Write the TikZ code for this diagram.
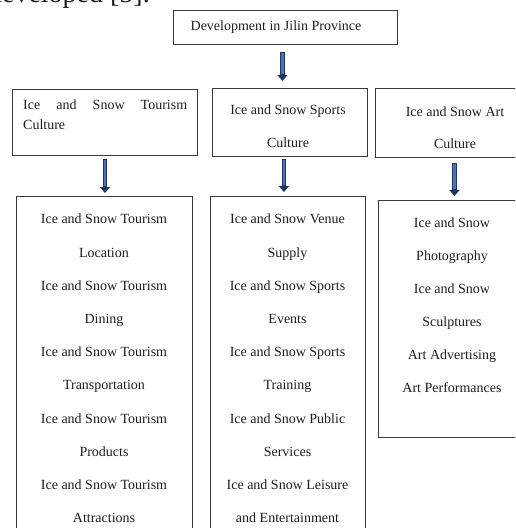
\documentclass[tikz,border=0pt]{standalone}
\usepackage{fontspec}
\setmainfont{Liberation Serif}
\usetikzlibrary{arrows.meta}
\definecolor{inkc}{HTML}{1E1E1E}
\definecolor{boxc}{HTML}{3A3A3A}
\definecolor{arrdark}{HTML}{1F3560}
\definecolor{arrfill}{HTML}{4A72C0}
\tikzset{
  box/.style={draw=boxc, line width=0.9pt, anchor=north west, inner sep=0pt, rectangle},
  txt/.style={text=inkc, inner sep=0pt, font=\fontsize{14}{33.2}\selectfont, align=center},
  barrow/.style={line width=4.6pt, draw=arrdark, -{Triangle[width=10pt,length=6pt]}},
  barrowin/.style={line width=2.4pt, draw=arrfill},
}
\begin{document}
\begin{tikzpicture}[x=1pt,y=-1pt]
\useasboundingbox (0,0) rectangle (515,528);
\clip (0,0) rectangle (515,528);
% partial text at the top edge (cut off, as in the reference)
\node[anchor=base east, inner sep=0pt, text=inkc, font=\fontsize{28}{30}\selectfont] (prev) at (150,2) {developed [5].};
% boxes
\node[box, minimum width=224pt, minimum height=34pt] (top) at (173,10) {};
\node[box, minimum width=185pt, minimum height=66pt] (tour) at (12,89) {};
\node[box, minimum width=155pt, minimum height=68pt] (sport) at (212,88) {};
\node[box, minimum width=160pt, minimum height=69pt] (art) at (375,88) {};
\node[box, minimum width=176pt, minimum height=350pt] (tourL) at (16,196) {};
\node[box, minimum width=155pt, minimum height=350pt] (sportL) at (210,196) {};
\node[box, minimum width=148pt, minimum height=237pt] (artL) at (378,200) {};
% texts
\node[txt, anchor=base] (topT) at (276,30.6) {Development in Jilin Province};
\node[txt, anchor=north west, align=left, font=\fontsize{14}{19.5}\selectfont] (tourT) at (23,100)
  {\makebox[164pt][s]{Ice and Snow Tourism}\\Culture};
\node[txt, anchor=north, font=\fontsize{14}{33}\selectfont] (sportT) at (288,105) {Ice and Snow Sports\\Culture};
\node[txt, anchor=north, font=\fontsize{14}{32}\selectfont] (artT) at (455,106.5) {Ice and Snow Art\\Culture};
\node[txt, anchor=north] (tourLT) at (104,214) {Ice and Snow Tourism\\Location\\Ice and Snow Tourism\\Dining\\Ice and Snow Tourism\\Transportation\\Ice and Snow Tourism\\Products\\Ice and Snow Tourism\\Attractions};
\node[txt, anchor=north] (sportLT) at (287.5,214) {Ice and Snow Venue\\Supply\\Ice and Snow Sports\\Events\\Ice and Snow Sports\\Training\\Ice and Snow Public\\Services\\Ice and Snow Leisure\\and Entertainment};
\node[txt, anchor=north, font=\fontsize{14}{33}\selectfont] (artLT) at (452,218) {Ice and Snow\\Photography\\Ice and Snow\\Sculptures\\Art Advertising\\Art Performances};
% arrows
\draw[barrow] ([xshift=-3pt,yshift=-7pt]top.south) -- ([xshift=-3pt,yshift=7pt]top.south |- sport.north);
\draw[barrowin] ([xshift=-3pt,yshift=-8pt]top.south) -- ([xshift=-3pt,yshift=14pt]top.south |- sport.north);
\draw[barrow] ([yshift=-3pt]tour.south) -- ([yshift=3pt]tour.south |- tourL.north);
\draw[barrowin] ([yshift=-4pt]tour.south) -- ([yshift=10pt]tour.south |- tourL.north);
\draw[barrow] ([xshift=-6pt,yshift=-2pt]sport.south) -- ([xshift=-6pt,yshift=4pt]sport.south |- sportL.north);
\draw[barrowin] ([xshift=-6pt,yshift=-3pt]sport.south) -- ([xshift=-6pt,yshift=11pt]sport.south |- sportL.north);
\draw[barrow] ([xshift=-1pt,yshift=-5pt]art.south) -- ([xshift=-1pt,yshift=4pt]art.south |- artL.north);
\draw[barrowin] ([xshift=-1pt,yshift=-6pt]art.south) -- ([xshift=-1pt,yshift=11pt]art.south |- artL.north);
\end{tikzpicture}
\end{document}
